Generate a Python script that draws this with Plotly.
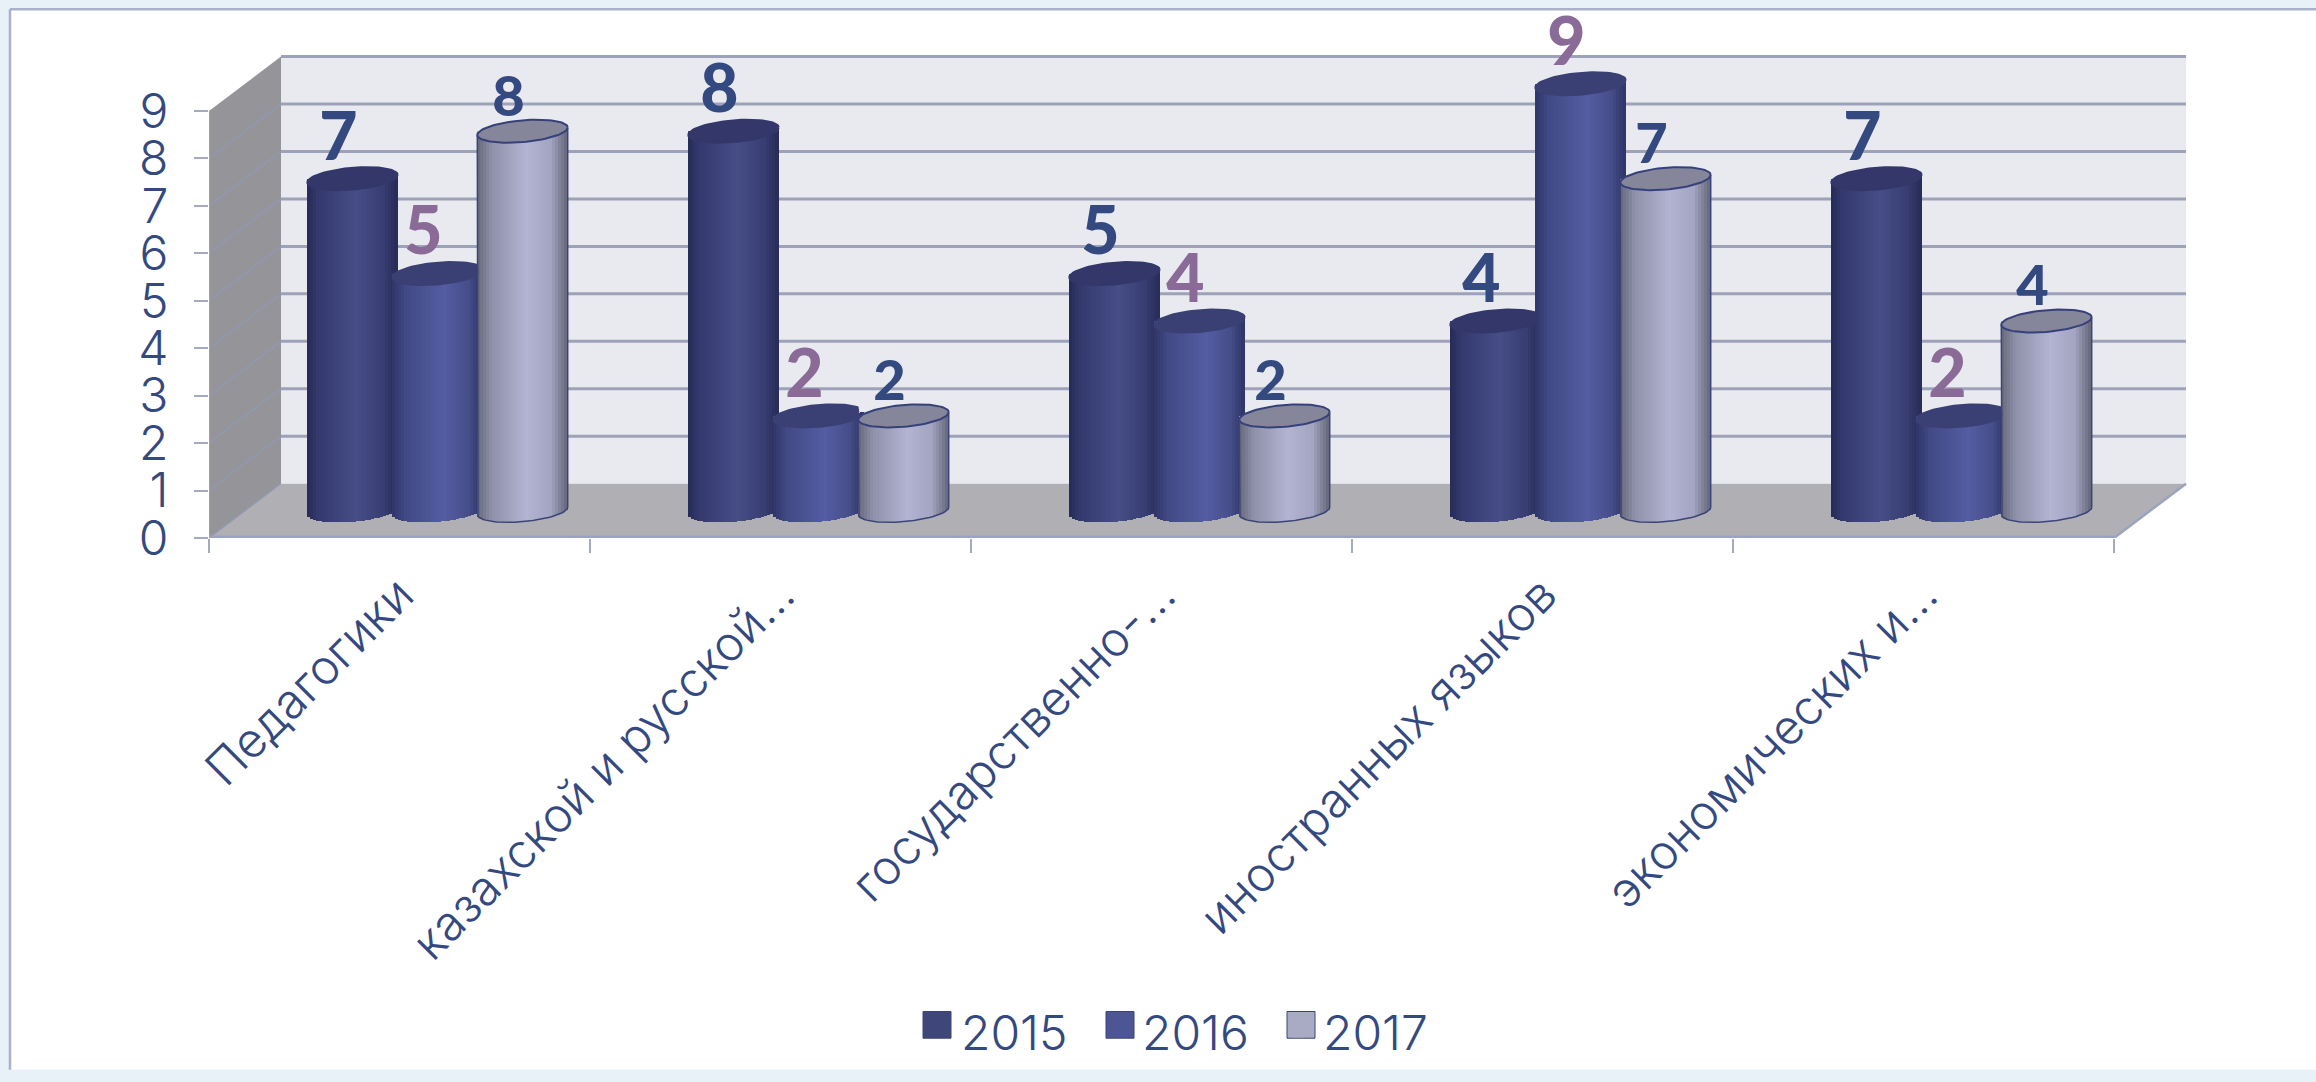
import numpy as np
import plotly.graph_objects as go

# ---- data ----
categories = ["Педагогики", "казахской и русской…", "государственно-…", "иностранных языков", "экономических и…"]
years = ["2015", "2016", "2017"]
v2015 = [7, 8, 5, 4, 7]
v2016 = [5, 2, 4, 9, 2]
v2017 = [8, 2, 2, 7, 4]
y_ticks = [0, 1, 2, 3, 4, 5, 6, 7, 8, 9]
series_values = [v2015, v2016, v2017]

# ---- styles / geometry ----
FONT = "Inter"
BOLD = "Lato"
INK = "#34497f"
PURPLE = "#8a6a96"
W, H = 2316, 1082
X0, Y0, CAT_PX, UNIT_PX = 209, 544, 381, 48
DX_PX, DY_PX = 72, 55
LEFT_PX, TOP_PX, RIGHT_PX = X0, 20, 2194
dx, dy = DX_PX / CAT_PX, DY_PX / UNIT_PX
A, B, S = 45.2, 11.0, 3.8      # cylinder ellipse half-width, half-height, tilt (px)
SPACING = 85 / CAT_PX
OFFSET = 38 / CAT_PX
N = 30
lift = (DY_PX / 2) / UNIT_PX
stops = [
    [(0, "#262b55"), (0.12, "#343a6e"), (0.55, "#474e87"), (0.85, "#383e72"), (1, "#272b56")],
    [(0, "#2f3568"), (0.15, "#414a85"), (0.58, "#555da3"), (0.85, "#464e8a"), (1, "#2f3566")],
    [(0, "#66677a"), (0.16, "#8e91a9"), (0.55, "#b3b4d3"), (0.82, "#a3a5c1"), (1, "#666779")],
]
legend_fill = ["#3f4679", "#4d5594", "#a9abc4"]
top_fill = ["#33376a", "#3a4074", "#85869a"]
label_col = [INK, PURPLE, INK]
label_size = [66, 66, 56]
label_up = [36, 36, 30]


def px_x(px):
    return (px - LEFT_PX) / (RIGHT_PX - LEFT_PX)


def px_y(py):
    return (Y0 - py) / (Y0 - TOP_PX)


def hex2rgb(h):
    return np.array([int(h[i:i + 2], 16) for i in (1, 3, 5)], float)


def grad(st, t):
    for (a, ca), (b, cb) in zip(st, st[1:]):
        if t <= b:
            c = hex2rgb(ca) + (hex2rgb(cb) - hex2rgb(ca)) * (t - a) / (b - a)
            return "rgb(%d,%d,%d)" % tuple(c)
    return st[-1][1]


fig = go.Figure()
cat_x = np.arange(len(categories)) + 0.5

# named bars (legend) and the shading strips that make them cylinders
us = (np.arange(N) + 0.5) / N * 2 - 1
for si, vals in enumerate(series_values):
    vals = np.array(vals, float)
    cx = cat_x + OFFSET + (si - 1) * SPACING
    fig.add_trace(go.Bar(x=cx, y=vals, base=lift, width=2 * A / CAT_PX, name=years[si],
                         marker=dict(color=legend_fill[si], line=dict(width=0)), hoverinfo="skip"))
    for u in us:
        base = lift + (S * u - B * np.sqrt(1 - u * u)) / UNIT_PX
        top = vals + lift + S * u / UNIT_PX
        fig.add_trace(go.Bar(x=cx + u * A / CAT_PX, y=top - base, base=[base] * len(vals),
                             width=2 * A / CAT_PX / N * 1.25, showlegend=False, hoverinfo="skip",
                             marker=dict(color=grad(stops[si], (u + 1) / 2), line=dict(width=0))))

# cylinder tops, outlines and value labels
t = np.linspace(0, 2 * np.pi, 73)
for si, vals in enumerate(series_values):
    cx = cat_x + OFFSET + (si - 1) * SPACING
    xs, ys = [], []
    for c, (i, v) in zip(cx, enumerate(vals)):
        ex = c + A * np.cos(t) / CAT_PX
        ey = v + lift + (B * np.sin(t) + S * np.cos(t)) / UNIT_PX
        if si < 2 and series_values[si + 1][i] >= v:
            ex = np.minimum(ex, c + SPACING - A / CAT_PX)
        xs += list(ex) + [None]
        ys += list(ey) + [None]
    fig.add_trace(go.Scatter(x=xs, y=ys, mode="lines", fill="toself", fillcolor=top_fill[si],
                             line=dict(color="#36407a" if si == 2 else top_fill[si], width=2),
                             showlegend=False, hoverinfo="skip"))
    if si == 2:
        ox, oy = [], []
        tb = np.linspace(np.pi, 2 * np.pi, 37)
        for c, v in zip(cx, vals):
            bx = c + A * np.cos(tb) / CAT_PX
            by = lift + (B * np.sin(tb) + S * np.cos(tb)) / UNIT_PX
            ox += [bx[0]] + list(bx) + [bx[-1], None]
            oy += [v + lift - S / UNIT_PX] + list(by) + [v + lift + S / UNIT_PX, None]
        fig.add_trace(go.Scatter(x=ox, y=oy, mode="lines", line=dict(color="#3b4478", width=1.5),
                                 showlegend=False, hoverinfo="skip"))
    fig.add_trace(go.Scatter(x=cx - 14 / CAT_PX, y=[v + lift + label_up[si] / UNIT_PX for v in vals],
                             mode="text", text=[str(v) for v in vals], textposition="middle center",
                             cliponaxis=False, showlegend=False, hoverinfo="skip",
                             textfont=dict(family=BOLD, size=label_size[si], color=label_col[si], weight=900)))

# frame, walls and floor
shapes = []
shapes.append(dict(type="rect", xref="paper", yref="paper", x0=px_x(10), x1=px_x(W), y0=px_y(H), y1=px_y(9),
                   fillcolor="white", line=dict(width=0), layer="below"))
shapes.append(dict(type="line", xref="paper", yref="paper", x0=px_x(10), x1=px_x(W), y0=px_y(9), y1=px_y(9),
                   line=dict(color="#aab1c8", width=2.5), layer="below"))
shapes.append(dict(type="line", xref="paper", yref="paper", x0=px_x(10), x1=px_x(10), y0=px_y(H), y1=px_y(9),
                   line=dict(color="#aab1c8", width=2.5), layer="below"))
n_cat = len(categories)
ymax = y_ticks[-1]
shapes.append(dict(type="rect", x0=dx, x1=n_cat + dx, y0=dy, y1=ymax + dy, fillcolor="#e9eaef",
                   line=dict(width=0), layer="below"))
shapes.append(dict(type="path", path=f"M0,0 L{dx},{dy} L{dx},{ymax + dy} L0,{ymax} Z", fillcolor="#959599",
                   line=dict(width=0), layer="below"))
shapes.append(dict(type="path", path=f"M0,0 L{n_cat},0 L{n_cat + dx},{dy} L{dx},{dy} Z", fillcolor="#b0afb3",
                   line=dict(width=0), layer="below"))
for k in y_ticks:
    if k > 0:
        shapes.append(dict(type="line", x0=dx, x1=n_cat + dx, y0=k + dy, y1=k + dy,
                           line=dict(color="#9da2b8", width=3), layer="below"))
    if k < ymax:
        shapes.append(dict(type="line", x0=0, x1=dx, y0=k, y1=k + dy,
                           line=dict(color="#8f98b8", width=1.2), layer="below"))
shapes.append(dict(type="line", x0=n_cat, x1=n_cat + dx, y0=0, y1=dy, line=dict(color="#9aa3c0", width=2.5), layer="below"))
shapes.append(dict(type="line", x0=0, x1=n_cat, y0=0, y1=0, line=dict(color="#9aa3c0", width=5), layer="below"))
shapes.append(dict(type="line", x0=0, x1=0, y0=0, y1=ymax, line=dict(color="#9aa3c0", width=1.5), layer="below"))
# larger legend swatches behind plotly's own legend symbols
for si, px in enumerate([923, 1106, 1287]):
    shapes.append(dict(type="rect", xref="paper", yref="paper", x0=px_x(px), x1=px_x(px + 28),
                       y0=px_y(1050), y1=px_y(1023), fillcolor=legend_fill[si],
                       line=dict(color="#3b4478", width=1), layer="below"))

fig.update_layout(
    width=W, height=H, autosize=False,
    margin=dict(l=LEFT_PX, r=W - RIGHT_PX, t=TOP_PX, b=H - Y0, pad=0),
    paper_bgcolor="#e8f0f8", plot_bgcolor="rgba(0,0,0,0)",
    barmode="overlay", bargap=0, shapes=shapes,
    font=dict(family=FONT, color=INK),
    legend=dict(orientation="h", x=px_x(910), xanchor="left", y=px_y(1082), yanchor="bottom",
                font=dict(family=FONT, size=48, color=INK, weight=300), itemwidth=41,
                entrywidth=125, entrywidthmode="pixels",
                bgcolor="rgba(0,0,0,0)", itemclick=False, itemdoubleclick=False),
    xaxis=dict(range=[0, (RIGHT_PX - X0) / CAT_PX], tickmode="array", tickvals=list(cat_x), ticktext=categories,
               tickangle=-45, ticks="", showgrid=False, zeroline=False, showline=False,
               tickfont=dict(family=FONT, size=48, color=INK, weight=300), ticklabelstandoff=18,
               minor=dict(tickmode="array", tickvals=list(range(n_cat + 1)), ticks="outside", ticklen=14,
                          tickcolor="#a4aabf", tickwidth=2, showgrid=False)),
    yaxis=dict(range=[0, (Y0 - TOP_PX) / UNIT_PX], tickmode="array", tickvals=y_ticks, ticks="outside", ticklen=14,
               tickcolor="#a4aabf", tickwidth=2, showgrid=False, zeroline=False, showline=False,
               tickfont=dict(family=FONT, size=48, color=INK, weight=300), ticklabelstandoff=16),
)
fig.write_html("out.html", config=dict(displayModeBar=False),
               post_script="""document.body.style.margin='0';document.body.style.background='white';
document.documentElement.style.overflow='hidden';
var gd=document.getElementById('{plot_id}');
gd.parentElement.style.overflow='hidden';
document.body.style.overflow='hidden';""")
